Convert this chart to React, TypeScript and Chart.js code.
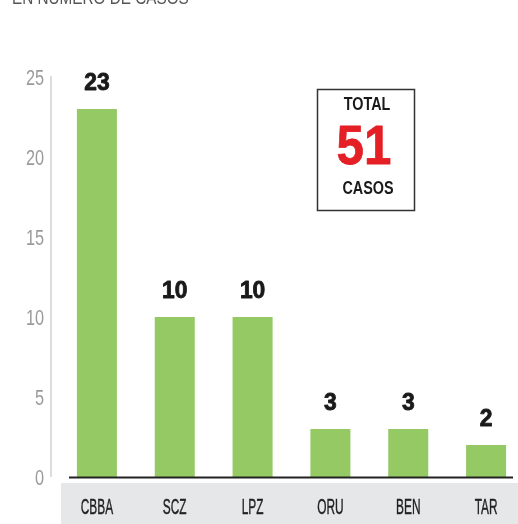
import React, { useEffect, useRef } from "react";
import { Chart, registerables } from "chart.js";

Chart.register(...registerables);

const titleText = "EN NÚMERO DE CASOS";
const categories = ["CBBA", "SCZ", "LPZ", "ORU", "BEN", "TAR"];
const cases = [23, 10, 10, 3, 3, 2];
const yTicks = [0, 5, 10, 15, 20, 25];
const totalLabel = "TOTAL";
const totalUnit = "CASOS";
const totalValue = cases.reduce((a, b) => a + b, 0);

const BAR_COLOR = "#94c964";
const RED = "#e41f26";
const SANS = "'Liberation Sans', Arial, sans-serif";

function drawText(
  ctx: CanvasRenderingContext2D,
  text: string,
  x: number,
  y: number,
  font: string,
  color: string,
  sx = 1,
  align: CanvasTextAlign = "center",
  baseline: CanvasTextBaseline = "middle",
  stroke = 0
) {
  ctx.save();
  ctx.font = font;
  ctx.fillStyle = color;
  ctx.textAlign = align;
  ctx.textBaseline = baseline;
  ctx.translate(x, y);
  ctx.scale(sx, 1);
  ctx.fillText(text, 0, 0);
  if (stroke > 0) {
    ctx.strokeStyle = color;
    ctx.lineWidth = stroke;
    ctx.lineJoin = "round";
    ctx.strokeText(text, 0, 0);
  }
  ctx.restore();
}

const decorPlugin = {
  id: "decor",
  beforeDatasetsDraw(chart: any) {
    const ctx = chart.ctx as CanvasRenderingContext2D;
    const y = chart.scales.y;
    const x = chart.scales.x;
    // title (cut at top)
    drawText(ctx, titleText, 12, 4, `18px ${SANS}`, "#555", 0.85, "left", "alphabetic");
    // y tick labels
    yTicks.forEach((v) => {
      drawText(ctx, String(v), 44, y.getPixelForValue(v) + 2, `300 22px ${SANS}`, "#9a9a9a", 0.74, "right");
    });
    // vertical y axis line
    ctx.save();
    ctx.strokeStyle = "#d0d0d0";
    ctx.lineWidth = 1.5;
    ctx.beginPath();
    ctx.moveTo(51, y.getPixelForValue(25) - 1);
    ctx.lineTo(51, y.getPixelForValue(0));
    ctx.stroke();
    ctx.restore();
    // gray label band
    const band = y.getPixelForValue(0) + 6;
    ctx.save();
    ctx.fillStyle = "#e6e7e8";
    ctx.fillRect(61, band, 520, 60);
    ctx.restore();
    // x labels
    categories.forEach((c, i) => {
      drawText(ctx, c, x.getPixelForValue(i), band + 25, `22px ${SANS}`, "#222", 0.54, "center", "middle", 0.4);
    });
  },
  afterDatasetsDraw(chart: any) {
    const ctx = chart.ctx as CanvasRenderingContext2D;
    const y = chart.scales.y;
    const meta = chart.getDatasetMeta(0);
    // baseline
    const by = y.getPixelForValue(0);
    ctx.save();
    ctx.strokeStyle = "#222";
    ctx.lineWidth = 2;
    ctx.beginPath();
    ctx.moveTo(69, by + 0.5);
    ctx.lineTo(513, by + 0.5);
    ctx.stroke();
    ctx.restore();
    // value labels
    meta.data.forEach((bar: any, i: number) => {
      drawText(ctx, String(cases[i]), bar.x, bar.y - 26, `bold 24px ${SANS}`, "#1a1a1a", 0.95, "center", "middle", 0.9);
    });
    // total box
    ctx.save();
    ctx.strokeStyle = "#333";
    ctx.lineWidth = 1.5;
    ctx.strokeRect(317.5, 89.5, 97, 121);
    ctx.restore();
    drawText(ctx, totalLabel, 367, 105, `bold 18px ${SANS}`, "#1a1a1a", 0.8);
    drawText(ctx, String(totalValue), 364, 149, `bold 56px ${SANS}`, RED, 0.88, "center", "middle", 0.8);
    drawText(ctx, totalUnit, 368, 189, `bold 18px ${SANS}`, "#1a1a1a", 0.8);
  },
};

export default function App() {
  const ref = useRef<HTMLCanvasElement>(null);
  useEffect(() => {
    if (!ref.current) return;
    const chart = new Chart(ref.current, {
      type: "bar",
      data: {
        labels: categories,
        datasets: [
          {
            data: cases,
            backgroundColor: BAR_COLOR,
            borderWidth: 0,
            barPercentage: 0.514,
            categoryPercentage: 1,
          },
        ],
      },
      options: {
        responsive: false,
        maintainAspectRatio: false,
        animation: false,
        layout: { padding: { top: 77, bottom: 47, left: 0, right: 15 } },
        plugins: { legend: { display: false }, tooltip: { enabled: false }, title: { display: false } },
        scales: {
          x: { display: false },
          y: {
            min: 0,
            max: 25,
            afterFit: (s: any) => {
              s.width = 58;
            },
            afterBuildTicks: (s: any) => {
              s.ticks = yTicks.map((v) => ({ value: v }));
            },
            grid: { display: false, drawTicks: false },
            border: { display: false },
            ticks: { display: false },
          },
        },
      },
      plugins: [decorPlugin],
    });
    return () => chart.destroy();
  }, []);
  return (
    <div
      style={{
        position: "absolute",
        left: 0,
        top: 0,
        width: 518,
        height: 524,
        overflow: "hidden",
        background: "#fff",
      }}
    >
      <canvas ref={ref} width={540} height={524} style={{ display: "block", width: 540, height: 524 }} />
    </div>
  );
}
